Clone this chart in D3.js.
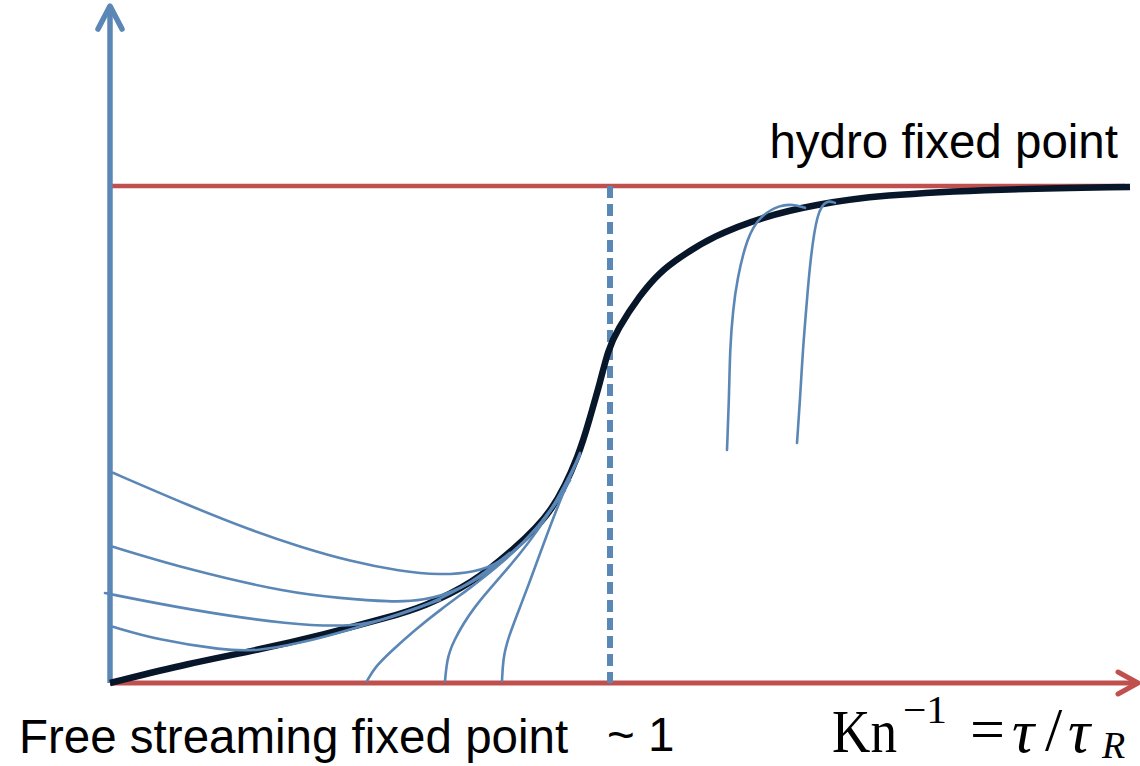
<!DOCTYPE html>
<html>
<head>
<meta charset="utf-8">
<script src="https://cdn.jsdelivr.net/npm/d3@7"></script>
<style>
  html, body { margin: 0; padding: 0; background: #ffffff; }
  svg { display: block; }
</style>
</head>
<body>
<svg id="chart" width="1140" height="766"></svg>
<script>
// Inverse Knudsen number on x, normalised response on y (0 = free streaming, 1 = hydro)
const attractor = [
  [0, 0], [0.16, 0.040], [0.294, 0.066], [0.426, 0.097], [0.56, 0.133],
  [0.626, 0.153], [0.726, 0.201], [0.806, 0.268], [0.886, 0.342], [0.94, 0.463],
  [0.96, 0.535], [0.98, 0.604], [0.996, 0.670], [1.014, 0.710], [1.06, 0.781],
  [1.10, 0.827], [1.14, 0.857], [1.206, 0.899], [1.306, 0.938], [1.406, 0.962],
  [1.54, 0.982], [1.78, 0.994], [2.04, 0.998], [2.04, 0.998]
];

// Individual solutions that relax onto the attractor
const flowFromAbove1 = [
  [0.006, 0.423], [0.006, 0.423], [0.16, 0.356], [0.28, 0.308], [0.38, 0.274],
  [0.48, 0.245], [0.58, 0.225], [0.66, 0.217], [0.73, 0.223], [0.78, 0.241],
  [0.84, 0.294], [0.90, 0.368], [0.94, 0.459], [0.94, 0.459]
];
const flowFromAbove2 = [
  [0.006, 0.274], [0.006, 0.274], [0.16, 0.227], [0.36, 0.181], [0.46, 0.171],
  [0.56, 0.163], [0.626, 0.165], [0.70, 0.187], [0.78, 0.237], [0.86, 0.314],
  [0.91, 0.388], [0.91, 0.388]
];
const flowFromAbove3 = [
  [-0.01, 0.181], [-0.01, 0.181], [0.16, 0.147], [0.36, 0.117], [0.494, 0.113],
  [0.56, 0.131], [0.64, 0.159], [0.72, 0.199], [0.80, 0.262], [0.80, 0.262]
];
const flowFromAbove4 = [
  [0.006, 0.113], [0.006, 0.113], [0.094, 0.087], [0.226, 0.066], [0.294, 0.064],
  [0.38, 0.080], [0.48, 0.107], [0.58, 0.139], [0.66, 0.167], [0.66, 0.167]
];
const flowFromBelow1 = [
  [0.514, 0.004], [0.514, 0.004], [0.53, 0.032], [0.56, 0.062], [0.61, 0.107],
  [0.66, 0.147], [0.72, 0.191], [0.78, 0.237], [0.86, 0.314], [0.92, 0.408],
  [0.92, 0.408]
];
const flowFromBelow2 = [
  [0.67, 0.004], [0.67, 0.004], [0.674, 0.046], [0.684, 0.080], [0.726, 0.153],
  [0.794, 0.227], [0.874, 0.328], [0.93, 0.439], [0.93, 0.439]
];
const flowFromBelow3 = [
  [0.784, 0.004], [0.784, 0.004], [0.786, 0.046], [0.794, 0.087], [0.834, 0.187],
  [0.886, 0.334], [0.94, 0.463], [0.94, 0.463]
];
const flowLate1 = [
  [1.234, 0.469], [1.234, 0.469], [1.238, 0.569], [1.24, 0.676], [1.246, 0.750],
  [1.254, 0.811], [1.274, 0.897], [1.30, 0.940], [1.34, 0.962], [1.366, 0.963],
  [1.39, 0.956], [1.39, 0.956]
];
const flowLate2 = [
  [1.374, 0.483], [1.374, 0.483], [1.38, 0.569], [1.386, 0.676], [1.394, 0.771],
  [1.40, 0.845], [1.414, 0.950], [1.434, 0.972], [1.45, 0.966], [1.45, 0.966]
];

const flows = [
  flowFromAbove1, flowFromAbove2, flowFromAbove3, flowFromAbove4,
  flowFromBelow1, flowFromBelow2, flowFromBelow3, flowLate1, flowLate2
];

// Reference levels and marks on the axes
const freeStreamingLevel = 0;
const hydroLevel = 1;
const crossover = 1;
const xAxisEnd = 2.056;
const yAxisEnd = 1.362;
const hydroLineEnd = 2.03;

const labels = {
  hydro: "hydro fixed point",
  freeStreaming: "Free streaming fixed point",
  crossover: "~ 1"
};

const blue = "#5b87b6";
const red = "#c0504d";
const ink = "#08162a";

const svg = d3.select("#chart");

const x = d3.scaleLinear().domain([0, 2]).range([110, 1110]);
const y = d3.scaleLinear().domain([0, 1]).range([683, 186]);

const line = d3.line()
  .x(d => x(d[0])).y(d => y(d[1]))
  .curve(d3.curveBasis);

// Hydro fixed point level
svg.append("line")
  .attr("x1", x(0)).attr("x2", x(hydroLineEnd))
  .attr("y1", y(hydroLevel)).attr("y2", y(hydroLevel))
  .attr("stroke", red).attr("stroke-width", 4.5);

// Free streaming axis (horizontal) with arrow head
svg.append("line")
  .attr("x1", x(0)).attr("x2", x(xAxisEnd) - 3)
  .attr("y1", y(freeStreamingLevel)).attr("y2", y(freeStreamingLevel))
  .attr("stroke", red).attr("stroke-width", 5);
svg.append("path")
  .attr("d", `M${x(xAxisEnd) - 20},${y(0) - 11} L${x(xAxisEnd)},${y(0)} L${x(xAxisEnd) - 20},${y(0) + 11}`)
  .attr("fill", "none").attr("stroke", red).attr("stroke-width", 5)
  .attr("stroke-linecap", "round").attr("stroke-linejoin", "round");

// Vertical axis with arrow head
svg.append("line")
  .attr("x1", x(0)).attr("x2", x(0))
  .attr("y1", y(0)).attr("y2", y(yAxisEnd) + 3)
  .attr("stroke", blue).attr("stroke-width", 5.5);
svg.append("path")
  .attr("d", `M${x(0) - 12},${y(yAxisEnd) + 23} L${x(0)},${y(yAxisEnd)} L${x(0) + 12},${y(yAxisEnd) + 23}`)
  .attr("fill", "none").attr("stroke", blue).attr("stroke-width", 5.5)
  .attr("stroke-linecap", "round").attr("stroke-linejoin", "round");

// Crossover marker at Kn ~ 1
svg.append("line")
  .attr("x1", x(crossover)).attr("x2", x(crossover))
  .attr("y1", y(hydroLevel)).attr("y2", y(0))
  .attr("stroke", blue).attr("stroke-width", 6)
  .attr("stroke-dasharray", "12,6");

// Attractor
svg.append("path")
  .datum(attractor)
  .attr("d", line)
  .attr("fill", "none").attr("stroke", ink).attr("stroke-width", 6.5)
  .attr("stroke-linecap", "butt");

// Individual flows
svg.append("g").selectAll("path")
  .data(flows)
  .join("path")
  .attr("d", line)
  .attr("fill", "none").attr("stroke", blue).attr("stroke-width", 2.6)
  .attr("stroke-linecap", "round");

// Text
const sans = "'Liberation Sans', Arial, sans-serif";

svg.append("text")
  .attr("x", 1118).attr("y", 158)
  .attr("text-anchor", "end")
  .attr("font-family", sans).attr("font-size", 47.5)
  .attr("fill", "#000")
  .text(labels.hydro);

svg.append("text")
  .attr("x", 19).attr("y", 753)
  .attr("font-family", sans).attr("font-size", 47.5)
  .attr("fill", "#000")
  .text(labels.freeStreaming);

svg.append("text")
  .attr("x", x(crossover) - 3).attr("y", 751)
  .attr("font-family", sans).attr("font-size", 47.5)
  .attr("fill", "#000")
  .text(labels.crossover);

// Axis title: Kn^{-1} = tau / tau_R
const serif = "'Liberation Serif', 'DejaVu Serif', serif";
const mathG = svg.append("g")
  .attr("font-family", serif).attr("fill", "#000");

mathG.append("text").attr("x", 832).attr("y", 752)
  .attr("font-size", 62)
  .attr("textLength", 65).attr("lengthAdjust", "spacingAndGlyphs")
  .text("Kn");
mathG.append("text").attr("x", 903).attr("y", 723)
  .attr("font-size", 40)
  .attr("textLength", 44).attr("lengthAdjust", "spacingAndGlyphs")
  .text("\u22121");
mathG.append("text").attr("x", 970).attr("y", 750)
  .attr("font-size", 62)
  .text("=");
mathG.append("text").attr("x", 1012).attr("y", 752)
  .attr("font-size", 62).attr("font-style", "italic")
  .text("\u03c4");
mathG.append("text").attr("x", 1045).attr("y", 750)
  .attr("font-size", 62)
  .text("/");
mathG.append("text").attr("x", 1068).attr("y", 752)
  .attr("font-size", 62).attr("font-style", "italic")
  .text("\u03c4");
mathG.append("text").attr("x", 1102).attr("y", 758)
  .attr("font-size", 38).attr("font-style", "italic")
  .text("R");
</script>
</body>
</html>
